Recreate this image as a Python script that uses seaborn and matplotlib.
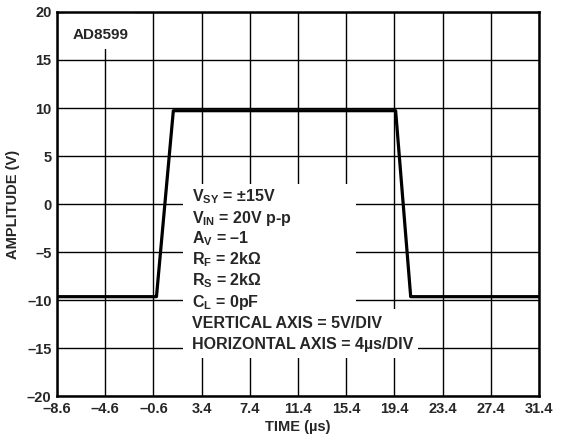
import numpy as np
import pandas as pd
import matplotlib
matplotlib.use('Agg')
import matplotlib.pyplot as plt
from matplotlib.patches import Rectangle
import seaborn as sns

# waveform
time_us = [-8.6, -0.35, 1.05, 19.5, 20.75, 31.4]
amplitude_v = [-9.65, -9.65, 9.72, 9.72, -9.65, -9.65]

x_ticks = [-8.6, -4.6, -0.6, 3.4, 7.4, 11.4, 15.4, 19.4, 23.4, 27.4, 31.4]
y_ticks = [-20, -15, -10, -5, 0, 5, 10, 15, 20]

conditions = [
    r'V$_{\mathbf{SY}}$ = ±15V',
    r'V$_{\mathbf{IN}}$ = 20V p-p',
    r'A$_{\mathbf{V}}$ = –1',
    r'R$_{\mathbf{F}}$ = 2kΩ',
    r'R$_{\mathbf{S}}$ = 2kΩ',
    r'C$_{\mathbf{L}}$ = 0pF',
    'VERTICAL AXIS = 5V/DIV',
    'HORIZONTAL AXIS = 4µs/DIV',
]

sns.set_style('white')
plt.rcParams['font.family'] = ['Liberation Sans', 'DejaVu Sans']
plt.rcParams['font.weight'] = 'bold'
plt.rcParams['mathtext.fontset'] = 'custom'
plt.rcParams['mathtext.bf'] = 'Liberation Sans:bold'
plt.rcParams['mathtext.rm'] = 'Liberation Sans:bold'
plt.rcParams['mathtext.default'] = 'bf'

df = pd.DataFrame({'t': time_us, 'v': amplitude_v})

fig = plt.figure(figsize=(5.65, 4.44), dpi=100)
ax = fig.add_axes([0.101, 0.108, 0.853, 0.865])

sns.lineplot(data=df, x='t', y='v', color='black', linewidth=2.3,
             sort=False, ax=ax, zorder=5)

ax.set_xlim(-8.6, 31.4)
ax.set_ylim(-20, 20)
ax.set_xticks(x_ticks)
ax.set_yticks(y_ticks)
ax.set_xticklabels([f'{v:.1f}'.replace('-', '–') for v in x_ticks],
                   fontsize=10.5, fontweight='bold')
ax.set_yticklabels([str(v).replace('-', '–') for v in y_ticks],
                   fontsize=10.5, fontweight='bold')
ax.tick_params(axis='both', length=0, pad=4)
ax.grid(True, color='black', linewidth=1.0)
ax.set_axisbelow(True)
for s in ax.spines.values():
    s.set_color('black')
    s.set_linewidth(1.8)
    s.set_zorder(10)

ax.set_xlabel('TIME (µs)', fontsize=10.5, fontweight='bold', labelpad=3)
ax.set_ylabel('AMPLITUDE (V)', fontsize=10.5, fontweight='bold', labelpad=5)

# white panels hiding the grid behind the labels
ax.add_patch(Rectangle((-7.9, 16.15), 5.8, 3.85, facecolor='white',
                       edgecolor='none', zorder=2))
ax.add_patch(Rectangle((1.86, -11.04), 14.34, 13.12, facecolor='white',
                       edgecolor='none', zorder=2))
ax.add_patch(Rectangle((1.86, -16.04), 19.5, 5.1, facecolor='white',
                       edgecolor='none', zorder=2))

ax.text(-7.35, 17.6, 'AD8599', fontsize=11, fontweight='bold',
        va='center', ha='left', zorder=6)

y0 = 0.73
for i, line in enumerate(conditions):
    ax.text(2.6, y0 - i * 2.19, line, fontsize=11.5, fontweight='bold',
            va='center', ha='left', zorder=6)

fig.savefig('out.png', dpi=100)
